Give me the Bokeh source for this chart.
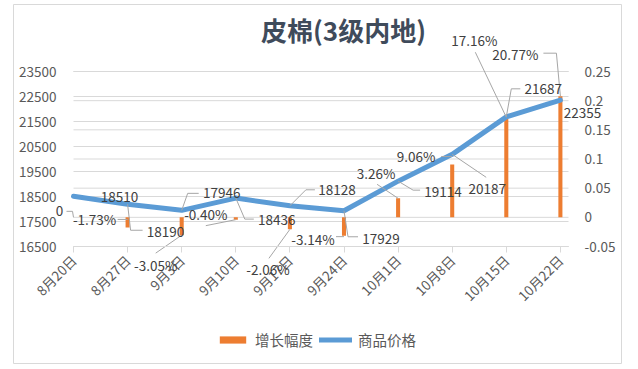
import math
from bokeh.plotting import figure
from bokeh.models import (Range1d, LinearAxis, FixedTicker, NumeralTickFormatter,
                          ColumnDataSource, LabelSet, Label, Legend, LegendItem)
from bokeh.core.properties import value
from bokeh.embed import file_html
from bokeh.resources import INLINE

# ---------------- data ----------------
categories = ["8月20日", "8月27日", "9月3日", "9月10日", "9月17日",
              "9月24日", "10月1日", "10月8日", "10月15日", "10月22日"]
price = [18510, 18190, 17946, 18436, 18128, 17929, 19114, 20187, 21687, 22355]
growth = [0.0, -0.0173, -0.0305, -0.0040, -0.0206, -0.0314, 0.0326, 0.0906, 0.1716, 0.2077]
growth_labels = ["0", "-1.73%", "-3.05%", "-0.40%", "-2.06%", "-3.14%",
                 "3.26%", "9.06%", "17.16%", "20.77%"]
price_labels = [str(v) for v in price]
left_ticks = [16500, 17500, 18500, 19500, 20500, 21500, 22500, 23500]
right_ticks = [-0.05, 0.0, 0.05, 0.1, 0.15, 0.2, 0.25]
title_text = "皮棉(3级内地)"
series_names = ["增长幅度", "商品价格"]

# ---------------- style / layout ----------------
FONT = "Noto Sans CJK SC"
ORANGE = "#ED7D31"
BLUE = "#5B9BD5"
GRID = "#d9d9d9"
AXIS_TXT = "#595959"
LBL_TXT = "#404040"
LEADER = "#a6a6a6"
TITLE_CLR = "#3f4b5b"

ORG = 0                          # canvas origin on the page
W, H = 636, 366
# frame (also the chart's outer border) in page pixels
FX0, FX1, FY0, FY1 = 13, 621, 4, 363
# plot-area geometry in page pixels
PX0, PX_STEP = 73, 54.1          # first category, category step
PX_END = 568                     # right edge of plot area
PY_BOT, PY_TOP = 246, 71         # bottom / top gridline

L_LO, L_HI = left_ticks[0], left_ticks[-1]
R_LO, R_HI = right_ticks[0], right_ticks[-1]


def xd(px):
    return (px - PX0) / PX_STEP


def yl(py):
    return L_LO + (PY_BOT - py) * (L_HI - L_LO) / (PY_BOT - PY_TOP)


def yr(py):
    return R_LO + (PY_BOT - py) * (R_HI - R_LO) / (PY_BOT - PY_TOP)


PX_L = (L_HI - L_LO) / (PY_BOT - PY_TOP)
X_END = xd(PX_END)

# label offsets in screen px (dx right, dy down) relative to data point
price_off = [(46, 1), (38, 28), (40, -17), (41, 22), (47, -16), (37, 28),
             (45, 11), (35, 35), (37, -28), (22, 13)]
growth_off = [(-14, -6), (-33, -8), (-26, 30), (-30, -6), (-22, 40), (-31, 3),
              (-22, -25), (-36, -8), (-32, -77), (-45, -42)]
# leader polylines (screen px offsets, dy down) relative to data point
price_lead = [None, [(0, 0), (3, 26), (15, 26)], [(0, 0), (6, -17), (17, -17)],
              [(0, 0), (9, 21), (18, 21)], [(0, 0), (16, -16), (25, -16)],
              [(0, 0), (4, 26), (14, 26)], [(0, 0), (15, 9), (22, 9)],
              [(0, 0), (34, 23)], [(14, -28), (5, -28), (0, 0)], None]
growth_lead = [[(-7, -6), (-1, -6), (0, 0)], [(-10, -8), (0, -8)], [(-26, 18), (0, 0)],
               [(-30, 6), (0, 0)], [(-21, 29), (0, 0)], [(-8, 1), (0, 1)],
               [(-21, -14), (0, 0)], [(-11, -8), (0, -8)], [(-31, -65), (0, 0)],
               [(-17, -43), (-4, -43), (0, 0)]]


def pct_to_left(v):
    return L_LO + (v - R_LO) / (R_HI - R_LO) * (L_HI - L_LO)


xs = list(range(len(categories)))

p = figure(width=W, height=H, output_backend="svg", toolbar_location=None,
           x_range=Range1d(xd(FX0), xd(FX1)), y_range=Range1d(yl(FY1), yl(FY0)),
           min_border_left=FX0 - ORG, min_border_right=ORG + W - FX1,
           min_border_top=FY0 - ORG, min_border_bottom=ORG + H - FY1,
           x_axis_location=None, y_axis_location=None)
p.extra_y_ranges = {"pct": Range1d(yr(FY1), yr(FY0))}
p.outline_line_color = GRID
p.background_fill_color = "white"
p.border_fill_color = "white"
p.xgrid.visible = False
p.ygrid.visible = False

# gridlines (left and right value axes)
p.segment(x0=0, x1=X_END, y0=left_ticks, y1=left_ticks, line_color=GRID, line_width=1)
p.segment(x0=0, x1=X_END, y0=right_ticks, y1=right_ticks, line_color=GRID, line_width=1,
          y_range_name="pct")

# axes drawn at fixed locations inside the frame
xaxis = LinearAxis(ticker=FixedTicker(ticks=xs), fixed_location=L_LO, bounds=(0, X_END))
xaxis.major_label_overrides = {i: c for i, c in enumerate(categories)}
xaxis.major_label_orientation = math.pi / 4
xaxis.axis_line_color = GRID
xaxis.major_tick_line_color = GRID
xaxis.major_tick_in = 0
xaxis.major_tick_out = 6
xaxis.minor_tick_line_color = None
xaxis.major_label_text_font = FONT
xaxis.major_label_text_font_size = "13.5px"
xaxis.major_label_text_color = AXIS_TXT
xaxis.major_label_standoff = 5
p.add_layout(xaxis, "below")

laxis = LinearAxis(ticker=FixedTicker(ticks=left_ticks), fixed_location=0)
laxis.axis_line_color = None
laxis.major_tick_line_color = None
laxis.minor_tick_line_color = None
laxis.major_label_text_font = FONT
laxis.major_label_text_font_size = "13.5px"
laxis.major_label_text_color = AXIS_TXT
laxis.major_label_standoff = 11
p.add_layout(laxis, "left")

raxis = LinearAxis(y_range_name="pct", ticker=FixedTicker(ticks=right_ticks),
                   formatter=NumeralTickFormatter(format="0.[00]"), fixed_location=X_END)
raxis.axis_line_color = None
raxis.major_tick_line_color = None
raxis.minor_tick_line_color = None
raxis.major_label_text_font = FONT
raxis.major_label_text_font_size = "13.5px"
raxis.major_label_text_color = AXIS_TXT
raxis.major_label_standoff = 10
p.add_layout(raxis, "right")

# glyphs
bars = p.vbar(x=xs, top=growth, bottom=0, width=0.075, y_range_name="pct",
              fill_color=ORANGE, line_color=None)
line = p.line(x=xs, y=price, line_color=BLUE, line_width=5, line_join="round",
              line_cap="round")

# leader lines
x0s, y0s, x1s, y1s = [], [], [], []
for i, lead in enumerate(price_lead):
    if not lead:
        continue
    pts = [(xs[i] + dx / PX_STEP, price[i] - dy * PX_L) for dx, dy in lead]
    for a, b in zip(pts[:-1], pts[1:]):
        x0s.append(a[0]); y0s.append(a[1]); x1s.append(b[0]); y1s.append(b[1])
for i, lead in enumerate(growth_lead):
    if not lead:
        continue
    base = pct_to_left(growth[i])
    pts = [(xs[i] + dx / PX_STEP, base - dy * PX_L) for dx, dy in lead]
    for a, b in zip(pts[:-1], pts[1:]):
        x0s.append(a[0]); y0s.append(a[1]); x1s.append(b[0]); y1s.append(b[1])
p.segment(x0=x0s, y0=y0s, x1=x1s, y1=y1s, line_color=LEADER, line_width=1)

# data labels
price_src = ColumnDataSource(dict(x=xs, y=price, t=price_labels,
                                  dx=[o[0] for o in price_off],
                                  dy=[-o[1] for o in price_off]))
p.add_layout(LabelSet(x="x", y="y", text="t", x_offset="dx", y_offset="dy",
                      source=price_src, text_align="center", text_baseline="middle",
                      text_font=value(FONT), text_font_size="13.5px", text_color=LBL_TXT))
growth_src = ColumnDataSource(dict(x=xs, y=growth, t=growth_labels,
                                   dx=[o[0] for o in growth_off],
                                   dy=[-o[1] for o in growth_off]))
p.add_layout(LabelSet(x="x", y="y", text="t", x_offset="dx", y_offset="dy",
                      source=growth_src, y_range_name="pct", text_align="center",
                      text_baseline="middle", text_font=value(FONT),
                      text_font_size="13.5px", text_color=LBL_TXT))

# title
p.add_layout(Label(x=xd(343), y=yl(29), text=title_text,
                   text_align="center", text_baseline="middle", text_font=FONT,
                   text_font_size="26px", text_font_style="bold", text_color=TITLE_CLR))

# legend
legend = Legend(items=[LegendItem(label=series_names[0], renderers=[bars]),
                       LegendItem(label=series_names[1], renderers=[line])],
                orientation="horizontal", location=(216 - FX0, FY1 - 350),
                padding=0, margin=0, spacing=6, label_standoff=6,
                glyph_width=33, glyph_height=9,
                label_text_font=FONT, label_text_font_size="14.5px",
                label_text_color=AXIS_TXT, border_line_color=None,
                background_fill_alpha=0)
p.add_layout(legend)

open("out.html", "w").write(file_html(p, INLINE))
